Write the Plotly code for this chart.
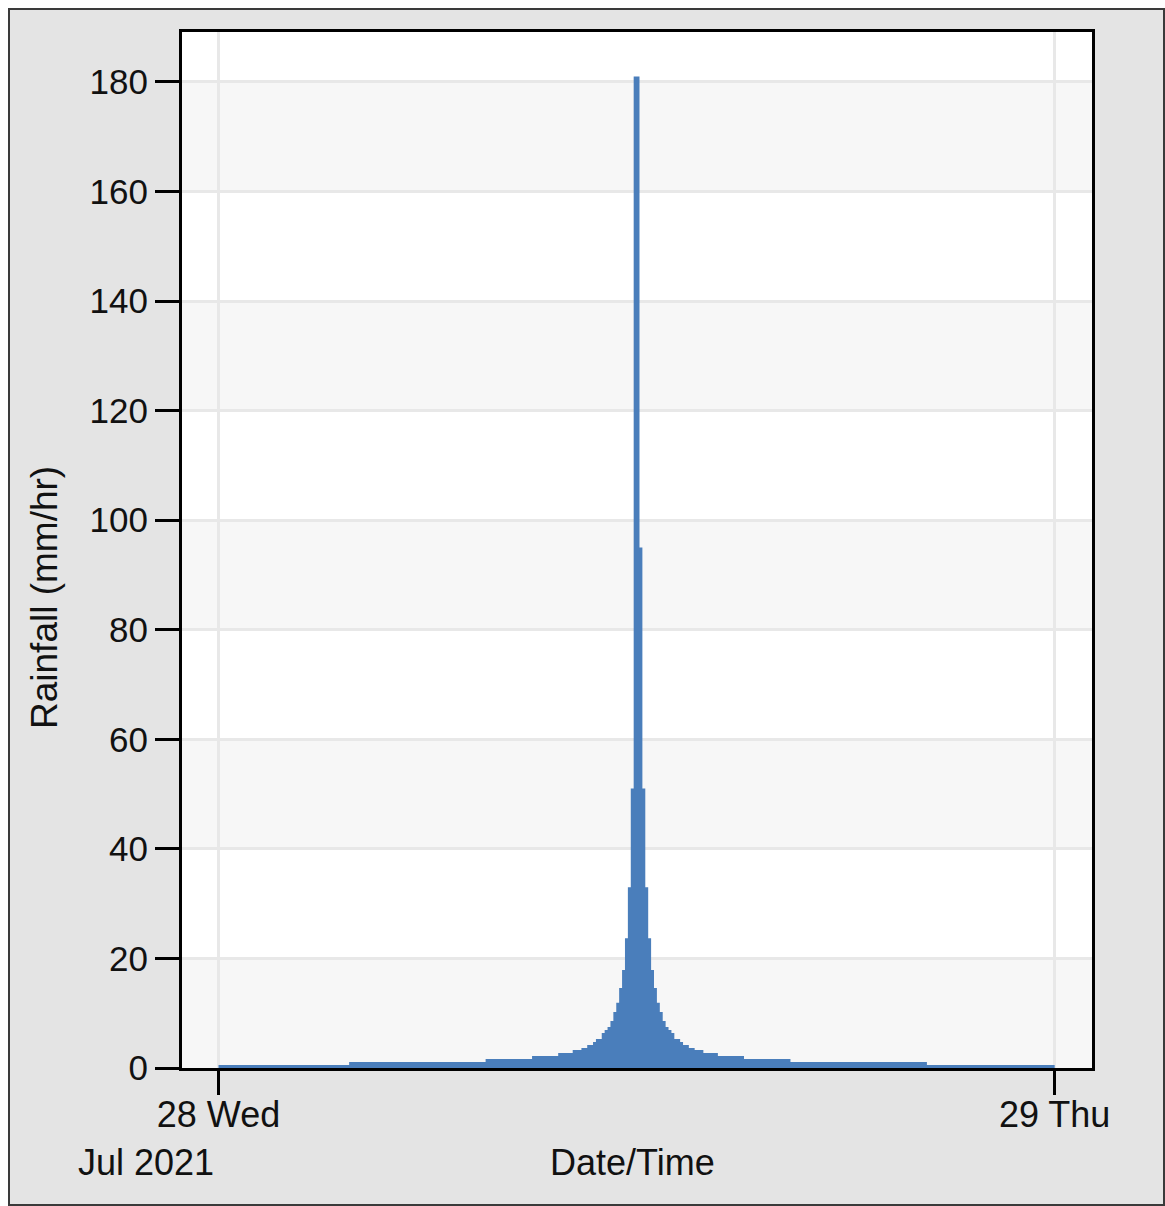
import plotly.graph_objects as go

# Design-storm hyetograph, 28 Jul 2021: each step holds its intensity until the next start time
step_start = ["00:00", "03:45", "07:40", "09:00", "09:45", "10:10", "10:25", "10:35",
              "10:45", "10:50", "11:00", "11:05", "11:10", "11:15", "11:20", "11:25",
              "11:30", "11:35", "11:40", "11:45", "11:50", "11:55", "12:05", "12:10",
              "12:15", "12:20", "12:25", "12:30", "12:35", "12:40", "12:45", "12:50",
              "12:55", "13:00", "13:05", "13:15", "13:20", "13:30", "13:40", "13:55",
              "14:20", "15:05", "16:25", "20:20"]
rain_mm_hr = [0.55, 1.1, 1.65, 2.2, 2.75, 3.3, 3.65, 4.2, 4.75, 5.3,
              6.4, 6.95, 7.5, 8.6, 10.2, 11.9, 14.6, 17.9, 23.7, 33.0,
              51.0, 181.0, 95.0, 51.0, 33.0, 23.7, 17.9, 14.6, 11.9, 10.2,
              8.6, 7.5, 6.95, 6.4, 5.3, 4.75, 4.2, 3.65, 3.3, 2.75,
              2.2, 1.65, 1.1, 0.55]
storm_day = "2021-07-28"
storm_end = "2021-07-29 00:00"

y_ticks = [0, 20, 40, 60, 80, 100, 120, 140, 160, 180]
x_tick_dates = ["2021-07-28", "2021-07-29"]
x_tick_text = ["28 Wed", "29 Thu"]

# ---- layout geometry (pixels) ----
W, H = 1165, 1206
ML, MR, MT, MB = 182, 73, 32, 138
PW, PH = W - ML - MR, H - MT - MB

def px_x(p):
    return (p - ML) / PW

def px_y(p):
    return (H - MB - p) / PH

FONT = "Liberation Sans, Arial, sans-serif"
TXT = "#111111"
BAR = "#4a7ebb"
GRID = "#e8e8e8"
BAND = "#f7f7f7"
FRAME_BG = "#e4e4e4"

xs = [f"{storm_day} {t}" for t in step_start] + [storm_end]
ys = rain_mm_hr + [rain_mm_hr[-1]]

fig = go.Figure()
fig.add_trace(go.Scatter(
    x=xs, y=ys, mode="lines", line_shape="hv",
    line=dict(color=BAR, width=0), fill="tozeroy", fillcolor=BAR,
    hoverinfo="x+y", showlegend=False,
))

shapes = [
    # grey panel with its dark border
    dict(type="rect", xref="paper", yref="paper", layer="below",
         x0=px_x(9), x1=px_x(1164), y0=px_y(1205), y1=px_y(9),
         fillcolor=FRAME_BG, line=dict(color="#3a3a3a", width=2)),
    # white plotting area
    dict(type="rect", xref="paper", yref="paper", layer="below",
         x0=0, x1=1, y0=0, y1=1, fillcolor="white", line=dict(width=0)),
]
# alternating shaded bands between the horizontal grid lines
for lo, hi in zip(y_ticks[:-1], y_ticks[1:]):
    if (lo // 20) % 2 == 0:
        shapes.append(dict(type="rect", xref="paper", yref="y", layer="below",
                           x0=0, x1=1, y0=lo, y1=hi,
                           fillcolor=BAND, line=dict(width=0)))

fig.update_layout(
    width=W, height=H,
    margin=dict(l=ML, r=MR, t=MT, b=MB, pad=0),
    paper_bgcolor="white", plot_bgcolor="white",
    font=dict(family=FONT, size=35, color=TXT),
    shapes=shapes,
    showlegend=False,
    xaxis=dict(
        type="date",
        range=["2021-07-27 22:57:08", "2021-07-29 01:04:18"],
        tickmode="array", tickvals=x_tick_dates, ticktext=x_tick_text,
        ticks="outside", ticklen=24, tickwidth=3, tickcolor="black",
        ticklabelstandoff=-11,
        showline=True, linewidth=3, linecolor="black", mirror=True,
        showgrid=True, gridcolor=GRID, gridwidth=3,
        zeroline=False, tickfont=dict(size=36, color=TXT),
    ),
    yaxis=dict(
        range=[0, 189.1],
        tickmode="array", tickvals=y_ticks,
        ticks="outside", ticklen=24, tickwidth=3, tickcolor="black",
        showline=True, linewidth=3, linecolor="black", mirror=True,
        showgrid=True, gridcolor=GRID, gridwidth=3,
        zeroline=False, tickfont=dict(size=35, color=TXT),
    ),
    annotations=[
        dict(text="Jul 2021", xref="paper", yref="paper",
             x=px_x(216), y=px_y(1162), xanchor="right", yanchor="middle",
             showarrow=False, font=dict(size=36, color=TXT)),
        dict(text="Date/Time", xref="paper", yref="paper",
             x=px_x(632), y=px_y(1162), xanchor="center", yanchor="middle",
             showarrow=False, font=dict(size=36, color=TXT)),
        dict(text="Rainfall (mm/hr)", xref="paper", yref="paper",
             x=px_x(44), y=px_y(598), xanchor="center", yanchor="middle",
             textangle=-90, showarrow=False, font=dict(size=37, color=TXT)),
    ],
)

fig.write_html("out.html")
